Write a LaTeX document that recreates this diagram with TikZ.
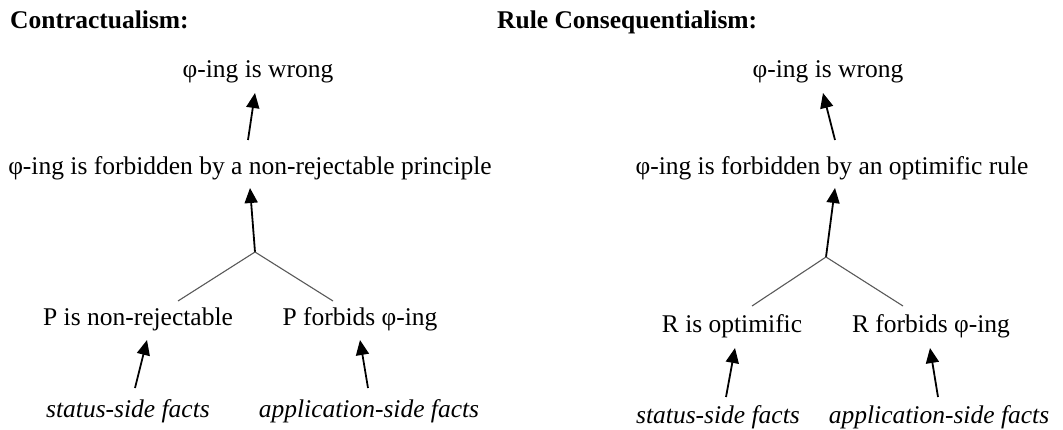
\documentclass[tikz,border=0pt]{standalone}
\usepackage{fontspec}
\setmainfont{Liberation Serif}
\usetikzlibrary{arrows.meta,calc}
\tikzset{
  txt/.style={anchor=base,inner sep=0pt,font=\fontsize{25.5}{30}\selectfont},
  ttl/.style={anchor=base west,inner sep=0pt,font=\fontsize{25.5}{30}\selectfont\bfseries},
  fact/.style={txt,font=\fontsize{25.5}{30}\selectfont\itshape},
  arr/.style={line width=1.8pt,-{Triangle[length=15pt,width=13pt]}},
  branch/.style={line width=1.1pt,draw=black!65}
}
\begin{document}
\begin{tikzpicture}[x=1pt,y=-1pt]
\useasboundingbox (0,0) rectangle (1063,430);
% ---------- Contractualism ----------
\node[ttl] (titleL) at (10,29) {Contractualism:};
\node[txt] (wrongL) at (258,78) {φ-ing is wrong};
\node[txt] (forbL) at (250,175) {φ-ing is forbidden by a non-rejectable principle};
\node[txt] (nrL) at (138,326) {P is non-rejectable};
\node[txt] (pfL) at (360,326) {P forbids φ-ing};
\node[fact] (ssL) at (128,417) {status-side facts};
\node[fact] (asL) at (369,417) {application-side facts};
\coordinate (jL) at (255,252);
\draw[arr] ($(forbL.base)+(-2,-35)$) -- ($(wrongL.base)+(-3,15)$);
\draw[arr] (jL) -- ($(forbL.base)+(0,13)$);
\draw[branch] ($(nrL.base)+(40,-25)$) -- (jL) -- ($(pfL.base)+(-27,-25)$);
\draw[arr] ($(ssL.base)+(7,-29)$) -- ($(nrL.base)+(9,14)$);
\draw[arr] ($(asL.base)+(-1,-29)$) -- ($(pfL.base)+(0,14)$);
% ---------- Rule Consequentialism ----------
\node[ttl] (titleR) at (497,29) {Rule Consequentialism:};
\node[txt] (wrongR) at (828,78) {φ-ing is wrong};
\node[txt] (forbR) at (832,175) {φ-ing is forbidden by an optimific rule};
\node[txt] (optR) at (732,333) {R is optimific};
\node[txt] (rfR) at (931,333) {R forbids φ-ing};
\node[fact] (ssR) at (718,423) {status-side facts};
\node[fact] (asR) at (939,423) {application-side facts};
\coordinate (jR) at (826,257);
\draw[arr] ($(forbR.base)+(3,-35)$) -- ($(wrongR.base)+(-5,15)$);
\draw[arr] (jR) -- ($(forbR.base)+(3,13)$);
\draw[branch] ($(optR.base)+(20,-27)$) -- (jR) -- ($(rfR.base)+(-28,-27)$);
\draw[arr] ($(ssR.base)+(8,-26)$) -- ($(optR.base)+(3,15)$);
\draw[arr] ($(asR.base)+(-1,-26)$) -- ($(rfR.base)+(-1,15)$);
\end{tikzpicture}
\end{document}
